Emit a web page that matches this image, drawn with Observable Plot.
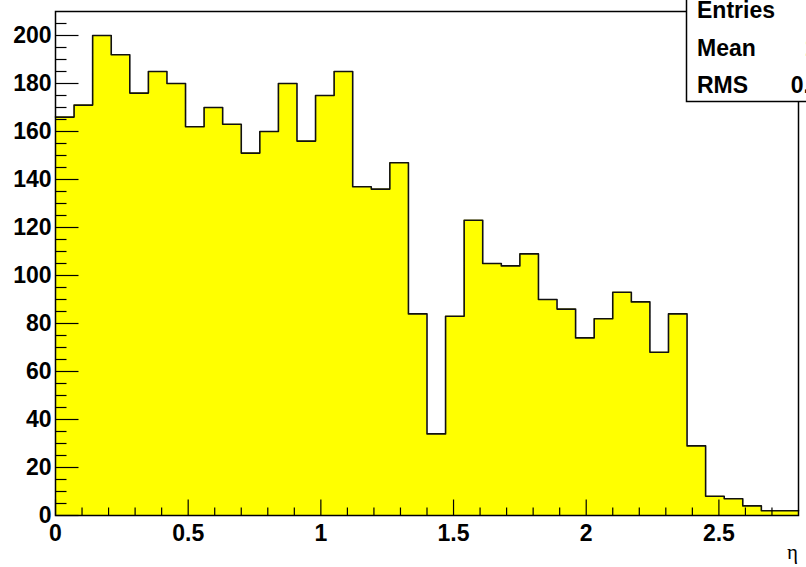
<!DOCTYPE html>
<html><head><meta charset="utf-8">
<script src="https://cdn.jsdelivr.net/npm/d3@7"></script>
<script src="https://cdn.jsdelivr.net/npm/@observablehq/plot@0.6"></script>
<style>html,body{margin:0;padding:0;overflow:hidden;background:#fff}</style>
</head><body><div id="chart"></div>
<script>
// Histogram: 40 bins of width 0.07 from 0 to 2.8 (eta)
const binLow = 0;
const binWidth = 0.07;
const counts = [166,171,200,192,176,185,180,162,170,163,151,160,180,156,175,185,137,136,147,84,
                34,83,123,105,104,109,90,86,74,82,93,89,68,84,29,8,7,4,2,2];
const xMajorTicks = [0, 0.5, 1, 1.5, 2, 2.5];
const xTickLabels = ["0", "0.5", "1", "1.5", "2", "2.5"];
const xMinorTicks = [0.1,0.2,0.3,0.4,0.6,0.7,0.8,0.9,1.1,1.2,1.3,1.4,1.6,1.7,1.8,1.9,2.1,2.2,2.3,2.4,2.6,2.7];
const yMajorTicks = [0,20,40,60,80,100,120,140,160,180,200];
const yTickLabels = ["0","20","40","60","80","100","120","140","160","180","200"];
const yMinorTicks = [5,10,15,25,30,35,45,50,55,65,70,75,85,90,95,105,110,115,125,130,135,145,150,155,165,170,175,185,190,195,205];
const statsNames = ["Entries", "Mean", "RMS"];
const statsValues = ["4552", "1.011", "0.6552"];
const xTitle = "η";

const W = 806, H = 567, ML = 55, MR = 8, MT = 11, MB = 52;
const xMax = 2.8, yMax = 210;
const bins = counts.map((c, i) => ({x1: binLow + i * binWidth, x2: binLow + (i + 1) * binWidth, y: c}));
const stepPoints = bins.flatMap(b => [{x: b.x1, y: b.y}, {x: b.x2, y: b.y}]);
const xLab = new Map(xMajorTicks.map((t, i) => [t, xTickLabels[i]]));
const yLab = new Map(yMajorTicks.map((t, i) => [t, yTickLabels[i]]));

// inward tick lengths in pixels, converted to data units of the frame
const pxY = yMax / (H - MT - MB), pxX = xMax / (W - ML - MR);
const xTickMarks = [...xMajorTicks.map(v => ({v, len: 16})), ...xMinorTicks.map(v => ({v, len: 8}))];
const yTickMarks = [...yMajorTicks.map(v => ({v, len: 23})), ...yMinorTicks.map(v => ({v, len: 11}))];

const FONT = "'Liberation Sans', Arial, Helvetica, sans-serif";

const plot = Plot.plot({
  width: W, height: H,
  marginLeft: ML, marginRight: MR, marginTop: MT, marginBottom: MB,
  x: {domain: [0, xMax], ticks: xMajorTicks, tickFormat: d => xLab.get(d), tickSize: 0, tickPadding: 9, label: null},
  y: {domain: [0, yMax], ticks: yMajorTicks, tickFormat: d => yLab.get(d), tickSize: 0, tickPadding: 4, label: null},
  style: {background: "white", color: "black", fontFamily: FONT, fontSize: "23px", fontWeight: "bold"},
  marks: [
    Plot.areaY(stepPoints, {x: "x", y1: 0, y2: "y", fill: "#ffff00"}),
    Plot.line(stepPoints, {x: "x", y: "y", stroke: "#111", strokeWidth: 1.6}),
    Plot.link(xTickMarks, {x1: "v", x2: "v", y1: () => 0, y2: d => d.len * pxY, stroke: "black", strokeWidth: 1.2}),
    Plot.link(yTickMarks, {y1: "v", y2: "v", x1: () => 0, x2: d => d.len * pxX, stroke: "black", strokeWidth: 1.2}),
    Plot.frame({stroke: "black", strokeWidth: 1.5})
  ]
});
document.getElementById("chart").appendChild(plot);

const svg = d3.select(plot);
const g = svg.append("g").attr("font-family", FONT).attr("font-weight", "bold").attr("font-size", 23);
g.append("rect").attr("x", 686.5).attr("y", -20).attr("width", 220).attr("height", 121.5)
  .attr("fill", "#ffffff").attr("stroke", "black").attr("stroke-width", 1.5);
statsNames.forEach((n, i) => g.append("text").attr("x", 697).attr("y", 18 + i * 37.5)
  .attr("text-anchor", "start").attr("fill", "black").text(n));
statsValues.forEach((v, i) => g.append("text").attr("x", 861).attr("y", 18 + i * 37.5)
  .attr("text-anchor", "end").attr("fill", "black").text(v));
svg.append("text").attr("x", 798).attr("y", 559).attr("text-anchor", "end").attr("font-weight", "normal")
  .attr("font-family", "'Liberation Serif', 'DejaVu Serif', serif").attr("font-size", 21).attr("fill", "black").text(xTitle);
</script>
</body></html>
